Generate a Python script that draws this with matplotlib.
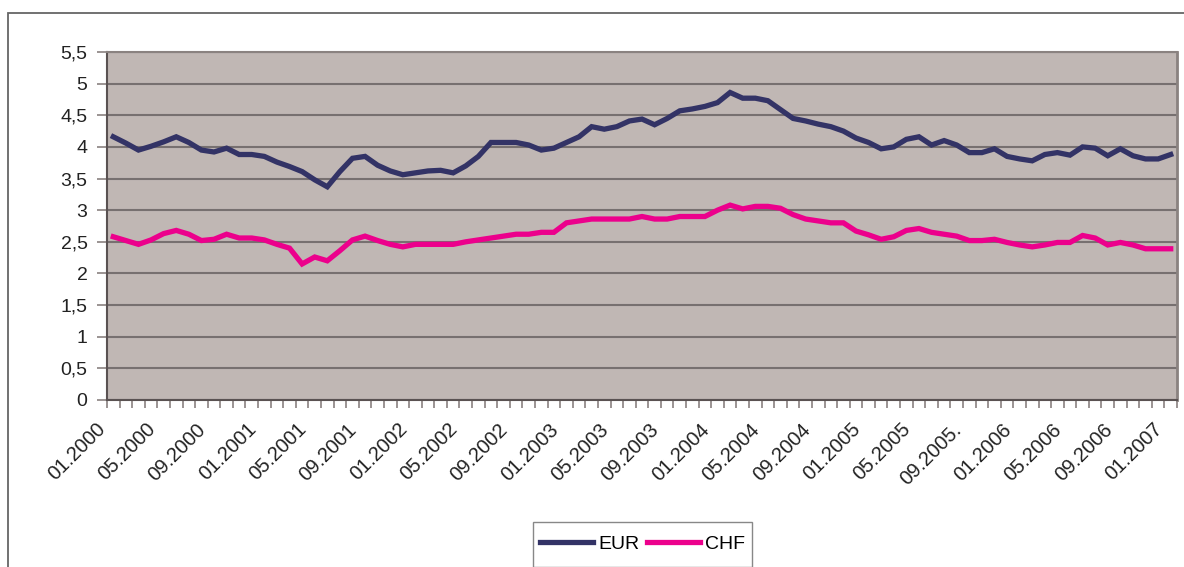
import numpy as np
import matplotlib
matplotlib.use('Agg')
import matplotlib.pyplot as plt
from matplotlib.patches import Rectangle
import matplotlib.transforms as mtransforms

plt.rcParams['font.family'] = ['Liberation Sans', 'DejaVu Sans']

# monthly values 01.2000 - 01.2007
eur = [4.16, 4.06, 3.95, 4.01, 4.08, 4.16, 4.07, 3.95, 3.92, 3.98,
       3.88, 3.88, 3.85, 3.76, 3.69, 3.61, 3.48, 3.37, 3.61, 3.82,
       3.85, 3.71, 3.62, 3.56, 3.59, 3.62, 3.63, 3.59, 3.70, 3.85,
       4.07, 4.07, 4.07, 4.03, 3.95, 3.98, 4.07, 4.16, 4.32, 4.28,
       4.32, 4.41, 4.44, 4.35, 4.45, 4.57, 4.60, 4.64, 4.70, 4.86,
       4.77, 4.77, 4.73, 4.59, 4.45, 4.41, 4.36, 4.32, 4.25, 4.14,
       4.07, 3.97, 4.00, 4.12, 4.16, 4.03, 4.10, 4.03, 3.91, 3.91,
       3.97, 3.85, 3.81, 3.78, 3.88, 3.91, 3.87, 4.00, 3.98, 3.86,
       3.97, 3.86, 3.81, 3.81, 3.88]
chf = [2.58, 2.52, 2.46, 2.53, 2.63, 2.68, 2.62, 2.52, 2.54, 2.62,
       2.56, 2.56, 2.53, 2.46, 2.40, 2.15, 2.26, 2.20, 2.36, 2.53,
       2.59, 2.52, 2.46, 2.42, 2.46, 2.46, 2.46, 2.46, 2.50, 2.53,
       2.56, 2.59, 2.62, 2.62, 2.65, 2.65, 2.80, 2.83, 2.86, 2.86,
       2.86, 2.86, 2.90, 2.86, 2.86, 2.90, 2.90, 2.90, 3.00, 3.08,
       3.02, 3.06, 3.06, 3.03, 2.93, 2.86, 2.83, 2.80, 2.80, 2.67,
       2.61, 2.54, 2.58, 2.68, 2.71, 2.65, 2.62, 2.59, 2.52, 2.52,
       2.54, 2.49, 2.45, 2.42, 2.45, 2.49, 2.49, 2.60, 2.56, 2.45,
       2.49, 2.45, 2.39, 2.39, 2.39]

tick_labels = ['01.2000', '05.2000', '09.2000', '01.2001', '05.2001', '09.2001',
               '01.2002', '05.2002', '09.2002', '01.2003', '05.2003', '09.2003',
               '01.2004', '05.2004', '09.2004', '01.2005', '05.2005', '09.2005.',
               '01.2006', '05.2006', '09.2006', '01.2007']
y_ticks = [0, 0.5, 1, 1.5, 2, 2.5, 3, 3.5, 4, 4.5, 5, 5.5]
y_labels = ['0', '0,5', '1', '1,5', '2', '2,5', '3', '3,5', '4', '4,5', '5', '5,5']

x = np.arange(len(eur))

fig = plt.figure(figsize=(11.84, 5.67), dpi=100)
ax = fig.add_axes([107/1184, 1 - 400/567, 1070/1184, 348/567])
ax.set_facecolor('#c0b7b4')

ax.plot(x, eur, color='#333366', lw=3.8, label='EUR', solid_joinstyle='miter')
ax.plot(x, chf, color='#ec008c', lw=3.8, label='CHF', solid_joinstyle='miter')

ax.set_xlim(-0.5, len(eur) - 0.5)
ax.set_ylim(0, 5.5)

ax.set_yticks(y_ticks)
ax.set_yticklabels(y_labels)
ax.yaxis.grid(True, color='#777070', lw=1.5)
ax.set_axisbelow(True)

# category boundaries as ticks, labels every 4 months
ax.set_xticks(np.arange(-0.5, len(eur), 1))
ax.set_xticklabels([])
ax.set_xticks(np.arange(0, len(eur), 4), minor=True)
ax.set_xticklabels(tick_labels, minor=True, rotation=45, ha='right',
                   va='center', rotation_mode='anchor')
ax.tick_params(axis='x', which='major', length=6, width=1.2, color='#8a8280', direction='out')
ax.tick_params(axis='x', which='minor', length=0, pad=19, labelsize=14.5, labelcolor='#222222')
ax.tick_params(axis='y', length=7, width=1.2, color='#8a8280', pad=7, labelsize=14,
               labelcolor='#222222')
offset = mtransforms.ScaledTranslation(-11/100, 0, fig.dpi_scale_trans)
for lab in ax.xaxis.get_minorticklabels():
    lab.set_transform(lab.get_transform() + offset)

ax.spines['left'].set_color('#5a5252')
ax.spines['left'].set_linewidth(1.5)
ax.spines['bottom'].set_color('#5a5252')
ax.spines['bottom'].set_linewidth(1.5)
ax.spines['top'].set_color('#8a8280')
ax.spines['top'].set_linewidth(1.5)
ax.spines['right'].set_color('#8a8280')
ax.spines['right'].set_linewidth(2)

# outer chart border
fig.patches.append(Rectangle((8/1184, -0.5), 2, 0.5 + 1 - 13/567, transform=fig.transFigure,
                             fill=False, edgecolor='#666666', lw=1.3))
# legend frame
fig.patches.append(Rectangle((533/1184, 0), 219/1184, 45/567, transform=fig.transFigure,
                             fill=False, edgecolor='#888888', lw=1.0))
fig.legend(loc='center', bbox_to_anchor=(642.5/1184, 1 - 544/567), ncol=2, frameon=False,
           fontsize=14, handlelength=2.75, handletextpad=0.25, columnspacing=0.4)

fig.savefig('out.png', dpi=100)
